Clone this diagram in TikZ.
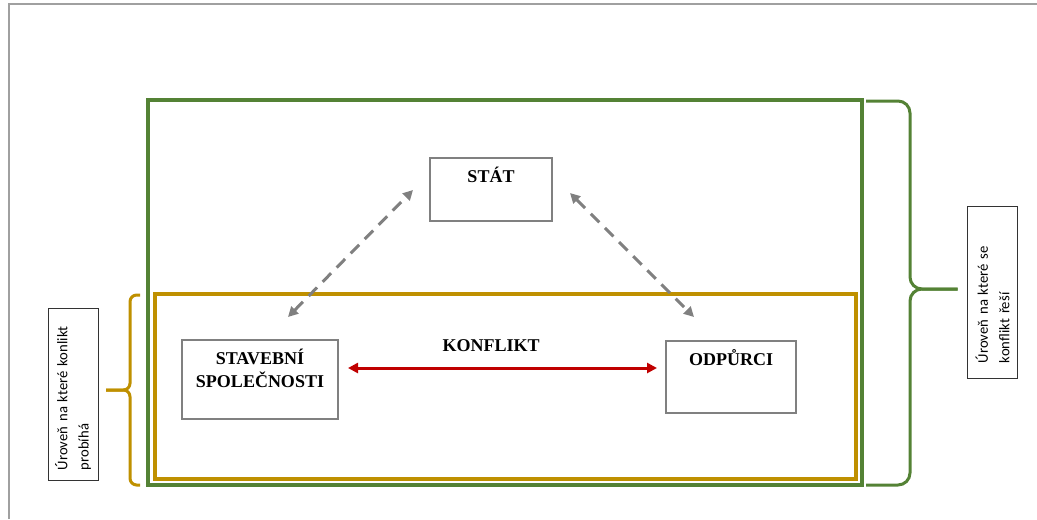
\documentclass[tikz,border=0pt]{standalone}
\usepackage{fontspec}
\setmainfont{Liberation Serif}
\newfontfamily\calibri{Carlito}
\usepackage{tikz}
\usetikzlibrary{positioning}
\usetikzlibrary{calc}
\usetikzlibrary{arrows.meta}

\definecolor{levelgreen}{RGB}{84,130,53}
\definecolor{levelgold}{RGB}{191,144,0}
\definecolor{boxgray}{RGB}{128,128,128}
\definecolor{framegray}{RGB}{160,160,160}
\definecolor{conflictred}{RGB}{192,0,0}

\begin{document}
\begin{tikzpicture}[x=0.75pt, y=-0.75pt,
    >={Triangle[length=7.5pt, width=7.5pt]},
    level/.style={draw, line width=3pt, inner sep=0, outer sep=0, anchor=north west},
    actor/.style={draw=boxgray, line width=1.5pt, inner sep=0, outer sep=0, anchor=north west},
    tag/.style={font=\fontsize{13.5}{17.25}\selectfont\bfseries},
    title/.style={tag, anchor=north, inner sep=0, yshift=-6.3pt, align=center},
    side/.style={draw=black!80, line width=0.6pt, rotate=90, align=left, outer sep=0,
    minimum width=129pt, minimum height=37.5pt, inner ysep=0,
    font=\calibri\fontsize{11}{16}\selectfont},
    link/.style={<->, draw=boxgray, line width=2.25pt, dash pattern=on 9pt off 6pt},
    conflict/.style={<->, draw=conflictred, line width=2.25pt},
    brace/.style={line width=2.25pt, rounded corners=#1},
    ]
    \useasboundingbox (0,0) rectangle (1037,519);
    \draw[framegray, line width=1.5pt] (9,519) -- (9,4) -- (1037,4);

    % levels
    \node[level, draw=levelgreen, minimum width=535.5pt, minimum height=288.75pt] (reseni) at (148,100) {};
    \node[level, draw=levelgold, minimum width=525.75pt, minimum height=138.75pt] (prubeh) at (155,294) {};

    % actors
    \node[actor, minimum width=91.5pt, minimum height=47.25pt,
    label={[title]north:STÁT}] (stat) at (430,158) {};
    \node[actor, minimum width=117pt, minimum height=59.25pt,
    label={[title]north:STAVEBNÍ\\SPOLEČNOSTI}] (stavebni) at (182,340) {};
    \node[actor, minimum width=97.5pt, minimum height=54pt,
    label={[title]north:ODPŮRCI}] (odpurci) at (666,341) {};

    % side notes
    \node[side, inner xsep=7.5pt, text width=114pt] (probiha) at (73,394)
    {Úroveň na které konlikt\\probíhá};
    \node[side, inner xsep=11.25pt, text width=106.5pt] (resi) at (992.5,292)
    {Úroveň na které se\\konflikt řeší};

    % braces
    \draw[brace=5pt, levelgold] ($(prubeh.north west)+(-15,1)$) -- (130,295) -- (130,390) -- ($(probiha.south)+(8,-4)$);
    \draw[brace=5pt, levelgold] (140,485) -- (130,485) -- (130,390) -- ($(probiha.south)+(8,-4)$);
    \draw[brace=9pt, levelgreen] ($(reseni.north east)+(4,1)$) -- (910,101) -- (910,289) -- ($(resi.north)+(-10,-3)$);
    \draw[brace=9pt, levelgreen] ($(reseni.south east)+(4,0)$) -- (910,485) -- (910,289) -- ($(resi.north)+(-10,-3)$);

    % relations
    \draw[link] ($(stavebni.north)+(28,-23)$) -- ($(stat.west)+(-17,0.5)$);
    \draw[link] ($(stat.east)+(18,3.5)$) -- ($(odpurci.north)+(-37,-24)$);
    \draw[conflict] ($(stavebni.east)+(10,-11.5)$) --
    node[tag, above=11.25pt, inner sep=0, pos=0.463] (konflikt) {KONFLIKT}
    ($(odpurci.west)+(-9,-9)$);
\end{tikzpicture}
\end{document}
